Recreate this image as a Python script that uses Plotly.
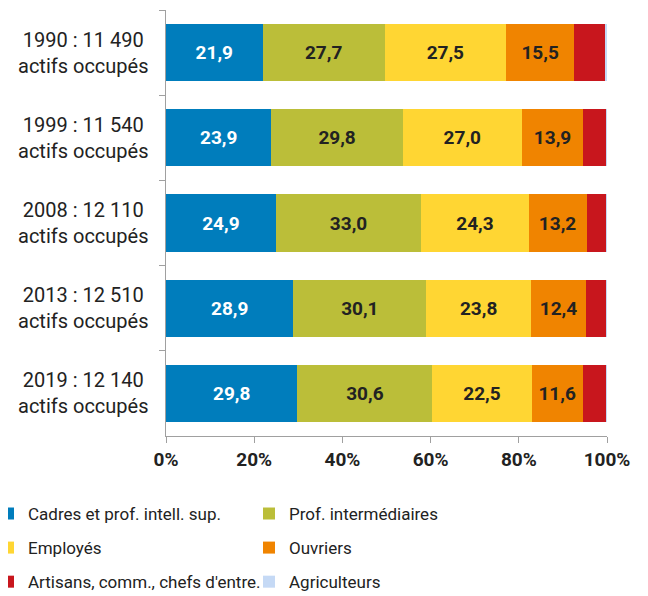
import plotly.graph_objects as go

categories = ["1990 : 11 490<br>actifs occupés", "1999 : 11 540<br>actifs occupés",
              "2008 : 12 110<br>actifs occupés", "2013 : 12 510<br>actifs occupés",
              "2019 : 12 140<br>actifs occupés"]
cadres = [21.9, 23.9, 24.9, 28.9, 29.8]
prof_inter = [27.7, 29.8, 33.0, 30.1, 30.6]
employes = [27.5, 27.0, 24.3, 23.8, 22.5]
ouvriers = [15.5, 13.9, 13.2, 12.4, 11.6]
artisans = [7.1, 5.2, 4.4, 4.6, 5.3]
agriculteurs = [0.3, 0.2, 0.2, 0.2, 0.2]
tick_vals = [0, 20, 40, 60, 80, 100]
tick_text = ["0%", "20%", "40%", "60%", "80%", "100%"]

series = [
    ("Cadres et prof. intell. sup.", cadres, "#007DBC", "white", True, "legend"),
    ("Prof. intermédiaires", prof_inter, "#BBBE39", "#222222", True, "legend"),
    ("Employés", employes, "#FFD633", "#222222", True, "legend2"),
    ("Ouvriers", ouvriers, "#F08400", "#222222", True, "legend2"),
    ("Artisans, comm., chefs d'entre.", artisans, "#C8161D", "#222222", False, "legend3"),
    ("Agriculteurs", agriculteurs, "#C5D9F5", "#222222", False, "legend3"),
]

fig = go.Figure()
for name, vals, color, tcol, show, lg in series:
    fig.add_trace(go.Bar(
        y=categories, x=vals, name=name, orientation="h", legend=lg,
        marker=dict(color=color, line=dict(width=0)),
        text=[f"{v:.1f}".replace(".", ",") for v in vals] if show else None,
        textposition="inside" if show else "none",
        insidetextanchor="middle",
        textangle=0,
        textfont=dict(family="Roboto", size=19, color=tcol, weight="bold"),
        hoverinfo="skip",
    ))

for c in categories:
    fig.add_annotation(
        x=-0.188, xref="paper", y=c, yref="y", text=c, showarrow=False,
        xanchor="center", yanchor="middle", align="center",
        font=dict(family="Roboto", size=20, color="#222222"),
    )

leg_common = dict(
    orientation="h", x=-0.4036, xanchor="left", yanchor="middle",
    entrywidth=216, entrywidthmode="pixels", traceorder="normal",
    font=dict(family="Roboto", size=17, color="#222222"),
    bgcolor="rgba(0,0,0,0)", borderwidth=0,
)

fig.update_layout(
    barmode="stack",
    bargap=0.33,
    width=640, height=588,
    margin=dict(l=158, r=41, t=2, b=160, autoexpand=False),
    paper_bgcolor="white", plot_bgcolor="white",
    font=dict(family="Roboto", color="#222222"),
    uniformtext=dict(mode=False),
    legend=dict(leg_common, y=-0.183),
    legend2=dict(leg_common, y=-0.263),
    legend3=dict(leg_common, y=-0.343),
    xaxis=dict(
        range=[0, 100], tickvals=tick_vals, ticktext=tick_text,
        showgrid=False, zeroline=False,
        showline=True, linecolor="#A0A0A0", linewidth=1,
        ticks="outside", ticklen=6, tickcolor="#A0A0A0",
        tickfont=dict(family="Roboto", size=19, color="#222222", weight="bold"),
        fixedrange=True,
    ),
    yaxis=dict(
        autorange="reversed", showgrid=False, zeroline=False,
        showline=True, linecolor="#A0A0A0", linewidth=1,
        ticks="outside", ticklen=6, tickcolor="#A0A0A0", tickson="boundaries",
        showticklabels=False, fixedrange=True,
    ),
)

fig.write_html("out.html")
